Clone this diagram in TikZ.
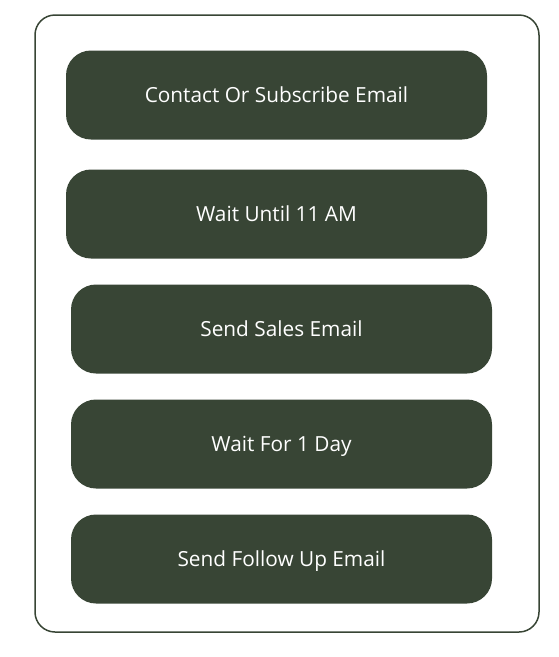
\documentclass[tikz,border=0pt]{standalone}
\usepackage{fontspec}
\setmainfont{Open Sans}
\definecolor{darkgreen}{HTML}{384535}
\tikzset{
  stepbox/.style={fill=darkgreen,text=white,rounded corners=25pt,minimum width=421pt,minimum height=89pt,font=\fontsize{20.8}{24}\selectfont,inner sep=0pt,text height=15pt,text depth=0pt}
}
\begin{document}
\begin{tikzpicture}[x=1pt,y=-1pt]
            \useasboundingbox (0,0) rectangle (558,657);
            \draw[darkgreen,line width=1.5pt,rounded corners=20pt] (35,15) rectangle (539,632);
            \node[stepbox] (contact) at (276.5,95) {Contact Or Subscribe Email};
            \node[stepbox] (wait) at (276.5,214) {Wait Until 11 AM};
            \node[stepbox] (sales) at (281.5,329) {Send Sales Email};
            \node[stepbox] (day) at (281.5,444) {Wait For 1 Day};
            \node[stepbox] (follow) at (281.5,559) {Send Follow Up Email};
        \end{tikzpicture}
\end{document}
